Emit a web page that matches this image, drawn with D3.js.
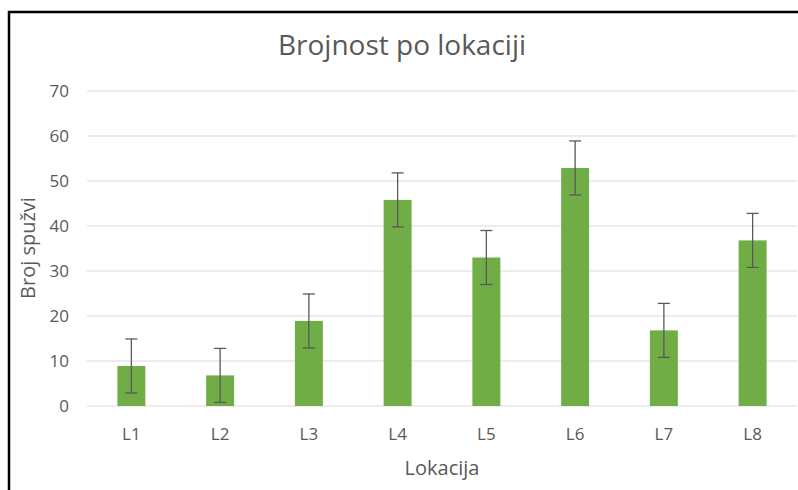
<!DOCTYPE html>
<html>
<head>
<meta charset="utf-8">
<script src="https://cdn.jsdelivr.net/npm/d3@7"></script>
<style>
  body { margin: 0; background: #fff; }
  text { font-family: "Open Sans", "Noto Sans", sans-serif; fill: #595959; }
</style>
</head>
<body>
<div id="chart"></div>
<script>
var categories = ["L1", "L2", "L3", "L4", "L5", "L6", "L7", "L8"];
var values = [8.9, 6.8, 18.9, 45.8, 33, 52.9, 16.8, 36.8];
var errors = [6, 6, 6, 6, 6, 6, 6, 6];
var yTicks = [0, 10, 20, 30, 40, 50, 60, 70];

var consts = {
    width: 798,
    height: 490,
    left: 87,
    right: 797,
    top: 91,
    bottom: 406
};

var svg = d3.select("#chart").append("svg")
    .attr("width", consts.width)
    .attr("height", consts.height);

// frame (right and bottom edges fall outside the picture)
svg.append("rect")
    .attr("x", 9).attr("y", 12)
    .attr("width", 820).attr("height", 520)
    .attr("fill", "none")
    .attr("stroke", "#000")
    .attr("stroke-width", 2.5);

var x = d3.scaleBand()
    .domain(categories)
    .range([consts.left, consts.right])
    .paddingInner(0.685)
    .paddingOuter(0.3425);

var y = d3.scaleLinear()
    .domain([0, 70])
    .range([consts.bottom, consts.top]);

// gridlines
svg.append("g").selectAll("line")
    .data(yTicks)
    .enter().append("line")
    .attr("x1", consts.left)
    .attr("x2", consts.right)
    .attr("y1", function (d) { return y(d); })
    .attr("y2", function (d) { return y(d); })
    .attr("stroke", "#d9d9d9")
    .attr("stroke-width", 1.2);

// y axis labels
var yAxis = d3.axisLeft(y).tickValues(yTicks).tickSize(0).tickPadding(0);
var yg = svg.append("g")
    .attr("transform", "translate(69,0)")
    .call(yAxis);
yg.select(".domain").remove();
yg.selectAll("text")
    .attr("fill", "#595959")
    .style("font-size", "17px");

// x axis labels
var xAxis = d3.axisBottom(x).tickSize(0).tickPadding(0);
var xg = svg.append("g")
    .attr("transform", "translate(0,428)")
    .call(xAxis);
xg.select(".domain").remove();
xg.selectAll("text")
    .attr("fill", "#595959")
    .style("font-size", "17px");

// bars
svg.append("g").selectAll("rect")
    .data(values)
    .enter().append("rect")
    .attr("x", function (d, i) { return x(categories[i]); })
    .attr("y", function (d) { return y(d); })
    .attr("width", x.bandwidth())
    .attr("height", function (d) { return y(0) - y(d); })
    .attr("fill", "#70ad47");

// error bars
var err = svg.append("g")
    .attr("stroke", "#595959")
    .attr("stroke-width", 1.3)
    .selectAll("g")
    .data(values)
    .enter().append("g");

err.append("line")
    .attr("x1", function (d, i) { return x(categories[i]) + x.bandwidth() / 2; })
    .attr("x2", function (d, i) { return x(categories[i]) + x.bandwidth() / 2; })
    .attr("y1", function (d, i) { return y(d - errors[i]); })
    .attr("y2", function (d, i) { return y(d + errors[i]); });

[-1, 1].forEach(function (sign) {
    err.append("line")
        .attr("x1", function (d, i) { return x(categories[i]) + x.bandwidth() / 2 - 6; })
        .attr("x2", function (d, i) { return x(categories[i]) + x.bandwidth() / 2 + 6; })
        .attr("y1", function (d, i) { return y(d + sign * errors[i]); })
        .attr("y2", function (d, i) { return y(d + sign * errors[i]); });
});

// titles
svg.append("text")
    .attr("x", 402).attr("y", 55)
    .attr("text-anchor", "middle")
    .style("font-size", "28px")
    .text("Brojnost po lokaciji");

svg.append("text")
    .attr("x", 442).attr("y", 475)
    .attr("text-anchor", "middle")
    .style("font-size", "20px")
    .text("Lokacija");

svg.append("text")
    .attr("transform", "translate(35,248) rotate(-90)")
    .attr("text-anchor", "middle")
    .style("font-size", "20px")
    .text("Broj spužvi");
</script>
</body>
</html>
